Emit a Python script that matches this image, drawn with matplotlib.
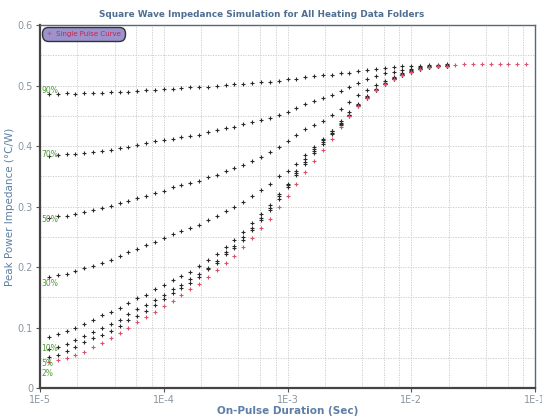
import matplotlib
matplotlib.use('Agg')
import matplotlib.pyplot as plt
from matplotlib.ticker import FixedLocator, NullFormatter

# on-pulse durations (sec)
durations = [1.179e-5, 1.389e-5, 1.638e-5, 1.931e-5, 2.276e-5, 2.683e-5, 3.162e-5,
             3.728e-5, 4.394e-5, 5.179e-5, 6.105e-5, 7.197e-5, 8.483e-5,
             1.0e-4, 1.179e-4, 1.389e-4, 1.638e-4, 1.931e-4, 2.276e-4, 2.683e-4,
             3.162e-4, 3.728e-4, 4.394e-4, 5.179e-4, 6.105e-4, 7.197e-4, 8.483e-4,
             1.0e-3, 1.179e-3, 1.389e-3, 1.638e-3, 1.931e-3, 2.276e-3, 2.683e-3,
             3.162e-3, 3.728e-3, 4.394e-3, 5.179e-3, 6.105e-3, 7.197e-3, 8.483e-3,
             1.0e-2, 1.179e-2, 1.389e-2, 1.638e-2, 1.931e-2, 2.276e-2, 2.683e-2,
             3.162e-2, 3.728e-2, 4.394e-2, 5.179e-2, 6.105e-2, 7.197e-2, 8.483e-2]

single_pulse = [.043, .046, .050, .054, .060, .067, .075, .083, .091, .100,
                .109, .117, .126, .135, .144, .154, .163, .172, .183, .195,
                .206, .219, .233, .248, .264, .280, .299, .318, .337, .357,
                .375, .393, .412, .431, .449, .466, .480, .492, .502, .511,
                .518, .523, .528, .531, .532, .533, .534, .535, .535, .535,
                .535, .535, .535, .535, .535]

duty_90 = [.486, .486, .487, .486, .487, .487, .488, .489, .489, .490,
           .491, .492, .493, .494, .494, .496, .497, .497, .498, .500,
           .501, .502, .503, .504, .506, .506, .508, .510, .511, .514,
           .516, .517, .518, .520, .521, .524, .526, .528, .529, .530,
           .532, .532, .533, .534, .534, .535]
duty_70 = [.384, .385, .386, .387, .388, .390, .392, .394, .396, .399,
           .402, .405, .408, .410, .412, .415, .417, .419, .423, .426,
           .429, .432, .436, .440, .443, .447, .452, .457, .463, .470,
           .474, .479, .485, .491, .498, .504, .511, .516, .520, .523,
           .525, .528, .531, .533, .533, .534]
duty_50 = [.281, .284, .285, .288, .291, .294, .298, .301, .306, .309,
           .314, .318, .322, .326, .332, .336, .339, .343, .349, .352,
           .358, .364, .369, .376, .382, .390, .398, .409, .419, .428,
           .435, .441, .451, .462, .473, .484, .493, .501, .507, .514,
           .521, .525, .529, .531, .532, .533]
duty_30 = [.183, .187, .189, .193, .198, .202, .206, .212, .218, .224,
           .230, .236, .242, .248, .254, .260, .264, .270, .277, .284,
           .292, .299, .308, .318, .327, .338, .350, .359, .371, .385,
           .398, .411, .425, .441, .457, .470, .482, .494, .504, .512,
           .518, .523, .528, .531, .532, .533]
duty_10 = [.085, .090, .094, .099, .106, .113, .120, .125, .133, .140,
           .148, .154, .163, .171, .179, .185, .192, .201, .212, .221,
           .233, .244, .258, .272, .287, .303, .321, .338, .359, .378,
           .395, .410, .425, .438, .452, .468, .481, .493, .503, .512,
           .519, .524, .528, .531, .532, .533]
duty_5 = [.064, .067, .073, .079, .086, .093, .100, .106, .113, .122,
          .130, .137, .145, .154, .163, .171, .180, .188, .199, .210,
          .224, .235, .249, .265, .281, .298, .317, .336, .356, .374,
          .391, .407, .422, .436, .451, .467, .480, .492, .502, .511,
          .518, .523, .528, .531, .532, .533]
duty_2 = [.051, .055, .062, .068, .076, .082, .088, .095, .103, .112,
          .119, .128, .137, .147, .157, .166, .173, .183, .196, .207,
          .221, .232, .245, .262, .277, .294, .313, .332, .352, .370,
          .388, .404, .420, .435, .450, .466, .480, .492, .502, .511,
          .518, .523, .528, .531, .532, .533]

duty_series = [duty_90, duty_70, duty_50, duty_30, duty_10, duty_5, duty_2]
duty_labels = ['90%', '70%', '50%', '30%', '10%', '5%', '2%']
label_y = [.492, .386, .278, .173, .065, .041, .024]

fig = plt.figure(figsize=(5.42, 4.17), dpi=100)
ax = fig.add_axes([0.0738, 0.0695, 0.9133, 0.8705])

for ys in duty_series:
    ax.plot(durations[:len(ys)], ys, '+', color='#2a2a2a', ms=3.3, mew=0.8)
ax.plot(durations, single_pulse, '+', color='#e0506a', ms=3.3, mew=0.8,
        label='Single Pulse Curve')

for lab, ly in zip(duty_labels, label_y):
    ax.text(1.02e-5, ly, lab, color='#4f9a3a', fontsize=5.5, va='center', ha='left')

ax.set_xscale('log')
ax.set_xlim(1e-5, 1e-1)
ax.set_ylim(0, 0.6)

decades = [1e-5, 1e-4, 1e-3, 1e-2, 1e-1]
ax.xaxis.set_major_locator(FixedLocator(decades))
ax.set_xticklabels(['1E-5', '1E-4', '1E-3', '1E-2', '1E-1'])
minor = [m * d for d in decades[:-1] for m in (2, 4, 6, 8)]
ax.xaxis.set_minor_locator(FixedLocator(minor))
ax.xaxis.set_minor_formatter(NullFormatter())
ax.set_yticks([0, 0.1, 0.2, 0.3, 0.4, 0.5, 0.6])
ax.set_yticklabels(['0', '0.1', '0.2', '0.3', '0.4', '0.5', '0.6'])
ax.yaxis.set_minor_locator(FixedLocator([0.05, 0.15, 0.25, 0.35, 0.45, 0.55]))

ax.grid(True, which='both', linestyle=(0, (1.5, 1.5)), color='#c8c8c8', linewidth=0.6)
ax.tick_params(which='major', length=3, color='#555555', labelsize=7, labelcolor='#8a96a2', pad=2)
ax.tick_params(which='minor', length=0)

for side in ['left', 'bottom']:
    ax.spines[side].set_color('#444444')
    ax.spines[side].set_linewidth(1.6)
for side in ['top', 'right']:
    ax.spines[side].set_color('#56687a')
    ax.spines[side].set_linewidth(1.0)

fig.text(0.483, 0.966, 'Square Wave Impedance Simulation for All Heating Data Folders',
         fontsize=6.4, fontweight='bold', color='#4f6f92', ha='center', va='center')
ax.set_xlabel('On-Pulse Duration (Sec)', fontsize=7.5, fontweight='bold', color='#5d7fa5', labelpad=1)
ax.set_ylabel('Peak Power Impedance (\u00b0C/W)', fontsize=7.5, color='#5d7fa5')
ax.yaxis.set_label_coords(-0.05, 0.5)

leg = ax.legend(loc='upper left', fontsize=5, fancybox=True, framealpha=1,
                facecolor='#9c92cc', edgecolor='#333333', handlelength=1.0,
                borderpad=0.35, handletextpad=0.5, borderaxespad=0.5)
for t in leg.get_texts():
    t.set_color('#d0204a')
leg.get_frame().set_boxstyle('round', pad=0.2, rounding_size=0.9)

fig.savefig('out.png', dpi=100)
